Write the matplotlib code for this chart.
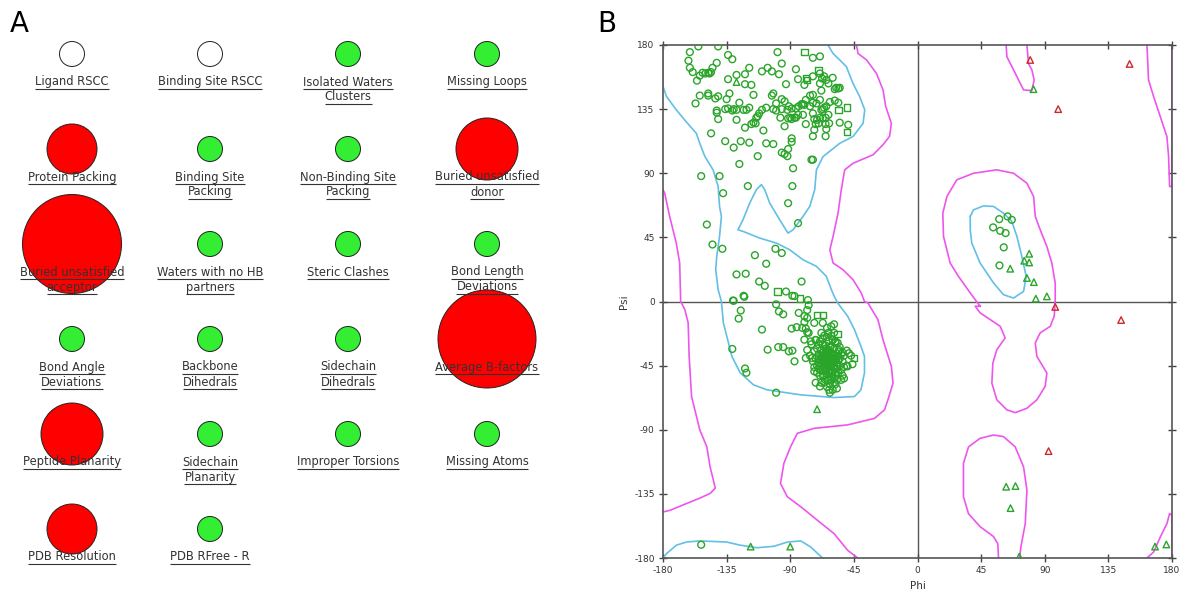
import matplotlib
matplotlib.use('Agg')
import matplotlib.pyplot as plt
from matplotlib.patches import Circle
import numpy as np

# ---------------- Panel A data ----------------
metric_labels = [
    "Ligand RSCC", "Binding Site RSCC", "Isolated Waters\nClusters", "Missing Loops",
    "Protein Packing", "Binding Site\nPacking", "Non-Binding Site\nPacking", "Buried unsatisfied\ndonor",
    "Buried unsatisfied\nacceptor", "Waters with no HB\npartners", "Steric Clashes", "Bond Length\nDeviations",
    "Bond Angle\nDeviations", "Backbone\nDihedrals", "Sidechain\nDihedrals", "Average B-factors",
    "Peptide Planarity", "Sidechain\nPlanarity", "Improper Torsions", "Missing Atoms",
    "PDB Resolution", "PDB RFree - R",
]
metric_status = [
    "none", "none", "good", "good",
    "bad", "good", "good", "bad",
    "bad", "good", "good", "good",
    "good", "good", "good", "bad",
    "bad", "good", "good", "good",
    "bad", "good",
]
metric_size = [
    25, 25, 25, 25,
    50, 25, 25, 62,
    99, 25, 25, 25,
    25, 25, 25, 98,
    62, 25, 25, 25,
    50, 25,
]
status_colors = {"none": "#ffffff", "good": "#33ee33", "bad": "#ff0000"}

# ---------------- Panel B data (phi, psi) ----------------
general_circles = [
    (-155, 179), (-141, 179), (-161, 175), (-134, 173), (-131, 170), (-99, 175), (-74, 171), (-69, 172),
    (-162, 169), (-161, 164), (-159, 161), (-156, 155), (-154, 158.5), (-152, 160.5), (-150, 160),
    (-148, 160.5), (-147, 160), (-146, 161), (-145, 164), (-142, 167.5), (-157, 139), (-154, 144.5),
    (-148, 146), (-148, 144.5), (-143, 142.5), (-141, 144), (-135, 142), (-134, 156), (-133, 146),
    (-128, 159), (-122, 159.5), (-119, 164), (-122, 152.5), (-117.5, 152), (-116, 145), (-110, 161.5),
    (-106, 164), (-103, 161.5), (-98, 159.5), (-96, 167), (-93, 152.5), (-86, 163), (-84.5, 156),
    (-80, 152), (-74, 158), (-69, 160), (-69, 153), (-67.5, 156.5), (-66, 158), (-64.5, 155.5),
    (-63, 153), (-60, 157), (-58.5, 149), (-57.5, 150), (-56, 149.5), (-55, 150), (-68, 148),
    (-74, 145), (-76, 144.5), (-79, 141.5), (-81, 138.5), (-80, 138), (-82, 138.5), (-84, 137),
    (-86, 135.5), (-89, 135.5), (-91, 137), (-94, 140.5), (-96, 142), (-100, 139), (-103, 144.5),
    (-102, 146), (-102, 135), (-100, 134), (-96, 135), (-92, 134.5), (-90, 129), (-89, 128), (-87, 129),
    (-86, 129), (-84.5, 131), (-91.5, 128.5), (-94, 123), (-97, 129), (-107, 136), (-110, 134.5),
    (-112, 132), (-113, 130), (-114, 129), (-114.5, 125), (-116, 125.5), (-121, 134.5), (-119, 136),
    (-123, 134.5), (-126, 139.5), (-128, 134.5), (-130, 135), (-131, 134), (-134, 135.5), (-136, 135),
    (-142, 134), (-142, 132.5), (-141, 128), (-128, 127.5), (-122, 122), (-117.5, 124.5), (-109, 120),
    (-107, 111), (-102, 110.5), (-146, 118), (-136, 112.5), (-130, 108), (-125, 112.5), (-119, 111.5),
    (-113, 102), (-96, 104.5), (-94, 103.5), (-92, 102), (-89, 112), (-89, 114.5), (-91.5, 107),
    (-126, 96.5), (-74, 116), (-73, 120.5), (-72, 124.5), (-71, 127.5), (-69, 129), (-67, 128.5),
    (-65, 129), (-63, 131), (-65, 124.5), (-62.5, 125), (-64.5, 121), (-65, 116), (-70, 125),
    (-68, 134.5), (-67, 135), (-66, 136), (-64.5, 137), (-62, 140), (-58.5, 141), (-56, 139.5),
    (-49, 124), (-55, 125.5), (-71.5, 139), (-69, 141.5), (-74, 139.5), (-76, 137), (-74, 132),
    (-73, 128), (-79, 124.5), (-81, 131), (-75, 99.5), (-74, 99.5), (-88, 93.5), (-88.5, 81),
    (-91.5, 69), (-84.5, 55), (-120, 81), (-153, 88), (-140, 88), (-137.5, 76), (-149, 54),
    (-145, 40), (-138, 37), (-115, 32.5), (-107, 26.5), (-100.5, 37), (-96, 34), (-128, 19),
    (-121.5, 19.5), (-112, 14), (-108, 11), (-93, 7), (-88.5, 4), (-82, 14), (-77.5, 1),
    (-130, 0.5), (-123, 4),
    # bridge / alpha region
    (-130.5, 0.7), (-122.5, 3.3), (-125, -6.3), (-126.5, -12), (-110, -19.7), (-131, -33.3),
    (-122, -47), (-121, -50), (-106, -33.8), (-98.5, -32), (-95, -32), (-91, -35), (-88.5, -34.5),
    (-87, -42), (-100, -64), (-100, -2), (-98, -7), (-95, -9), (-87, 3.8), (-77, -2.6), (-78, -6),
    (-84, -8), (-80, -10.3), (-78, -11.5), (-73, -15), (-67, -15), (-80, -14.5), (-81.5, -18.5),
    (-79, -19), (-89, -19), (-85.5, -18), (-77, -22), (-78, -21.6), (-80, -26.8), (-75.5, -28),
    (-72, -27), (-61, -17.4), (-59, -16), (-64, -18.5), (-59, -22), (-58, -28), (-60, -27),
    (-78, -34), (-79, -39.7), (-74.5, -39.7), (-73, -49), (-72, -57), (-69, -59.6), (-62.5, -62),
    (-61, -55), (-59, -54), (-52, -54), (-49.5, -45.5), (-46, -44), (-47, -38), (-50, -34.5),
    (-48.5, -36.3), (-53, -35.7), (-55.5, -34), (-56.5, -29),
    # alpha helix core
    (-66, -40), (-64, -42), (-62, -38), (-68, -44), (-63, -45), (-60, -41), (-65, -36), (-67, -39),
    (-61, -44), (-64, -47), (-69, -41), (-62, -35), (-58, -40), (-66, -46), (-63, -50), (-59, -46),
    (-70, -37), (-65, -33), (-61, -31), (-67, -30), (-57, -43), (-71, -45), (-64, -39), (-60, -37),
    (-62, -48), (-66, -52), (-58, -50), (-55, -45), (-68, -34), (-72, -40), (-63, -28), (-59, -33),
    (-56, -38), (-69, -48), (-65, -55), (-61, -53), (-57, -55), (-54, -48), (-73, -35), (-70, -30),
    (-64, -25), (-60, -27), (-66, -43), (-62, -41), (-65, -45), (-63, -37), (-67, -48), (-59, -43),
    (-61, -39), (-64, -35), (-68, -38), (-56, -41), (-60, -49), (-66, -57), (-62, -58), (-58, -58),
    (-53, -42), (-52, -38), (-74, -42), (-71, -50), (-67, -26), (-63, -22), (-58, -29), (-55, -32),
    (-75, -30), (-69, -52), (-64, -60), (-60, -62), (-53, -52), (-50, -45), (-65, -41), (-63, -43),
    (-61, -46), (-67, -36), (-59, -38), (-62, -32), (-66, -49), (-64, -51), (-57, -47), (-70, -43),
    (-72, -27), (-68, -22), (-61, -24), (-56, -35), (-54, -37), (-76, -38), (-73, -46), (-60, -52),
    (-57, -61), (-62, -64),
    (-65, -38), (-63, -40), (-61, -42), (-67, -42), (-69, -45), (-64, -44), (-62, -46), (-60, -44),
    (-66, -38), (-68, -40), (-63, -34), (-65, -31), (-61, -36), (-59, -40), (-57, -45), (-58, -52),
    (-61, -50), (-65, -48), (-67, -52), (-70, -47), (-71, -33), (-69, -28), (-66, -24), (-56, -50),
    (-55, -40), (-54, -55), (-52, -46), (-63, -55), (-68, -57), (-59, -57),
    # left-handed region and bottom
    (57.8, 57.8), (63.7, 59.7), (66.7, 57.3), (53.5, 52), (58.5, 49.6), (62.3, 48), (61, 38),
    (58, 25.3), (-153, -170.7),
]
green_squares = [
    (-80, 175), (-79, 157), (-78, 155.5), (-70, 162), (-56, 134.5), (-50, 136), (-50, 119),
    (-99, 7), (-83, 2), (-71, -9.4), (-67, -9.4), (-56.5, -22.8), (-45, -39.7),
]
green_triangles = [
    (-128, 154), (-71, -75.6), (-118, -172), (-90, -172), (82, 149), (79, 33.5), (75.5, 28.6),
    (79, 27.4), (65.6, 23), (77.4, 16.5), (82.3, 13.6), (83.7, 2), (91.5, 3.6), (62.7, -130),
    (69.3, -129.5), (65.8, -145), (72, -179), (168, -172), (176, -170.5),
]
red_triangles = [
    (79.7, 169.5), (150, 166.7), (99.5, 135), (97.4, -3.8), (144, -13), (92.7, -105),
]

# favoured (cyan) contours
favored_main = [
    (-180, 180), (-180, 151), (-177.6, 144), (-170.6, 134.5), (-163.5, 126), (-156.4, 118),
    (-154, 111), (-150.5, 102), (-144.6, 92.4), (-141, 80.7), (-140, 66.7), (-138.7, 59.7),
    (-140, 45.7), (-142, 31.7), (-142.7, 22.3), (-141, 8.3), (-138.7, 0), (-137.3, -15),
    (-133.7, -29), (-131.3, -38.5), (-125.4, -50), (-116, -58.5), (-106.4, -62), (-82.6, -65.5),
    (-59, -67.4), (-44.6, -66.7), (-40, -62), (-37.5, -50), (-37.5, -38.5), (-40, -31.5),
    (-44.6, -19.7), (-49.4, -10.3), (-56.5, -1), (-59, 3.8), (-61, 8.5), (-64.5, 17.7),
    (-71.5, 24.7), (-81, 29.3), (-90.4, 36.3), (-99.8, 41), (-111.6, 44.5), (-123.4, 49.2),
    (-127, 50.3), (-123.4, 57.4), (-118.7, 69), (-114, 78.4), (-110.4, 82), (-108, 78.4),
    (-104.5, 69), (-97.5, 57.4), (-91.6, 48), (-88, 50.3), (-81, 59.7), (-76.2, 66.7),
    (-72.7, 78.4), (-71.5, 92.4), (-66.8, 101.7), (-55, 111), (-45.6, 115.8), (-38.5, 125),
    (-37.3, 134.5), (-40.9, 143.8), (-45.6, 153), (-50.3, 164.8), (-55, 169.5), (-59.7, 174),
    (-63.3, 180),
]
favored_band = [
    (-180, -180), (-177.6, -177), (-170.5, -171), (-163.4, -168.8), (-154, -168), (-135, -168.8),
    (-125.4, -171), (-113.5, -172.8), (-101.6, -171.8), (-92, -168.8), (-82.6, -168),
    (-75.5, -172.3), (-67.2, -180),
]
favored_alphaL = [
    (37.3, 59.7), (39.6, 64.3), (46.7, 67.1), (53.8, 66.7), (60.8, 62), (66.7, 56.2), (70.3, 45.7),
    (73.8, 31.6), (76.9, 17.6), (75, 7.1), (67.9, 2.4), (60.8, 4.8), (53.8, 13), (44.3, 27),
    (38.4, 41), (37.3, 50.3), (37.3, 59.7),
]
# allowed (magenta) contours
allowed_left = [
    (-180, 78.4), (-178.8, 76), (-175.3, 59.7), (-170.6, 41), (-168.2, 27), (-167.5, 0),
    (-164.6, -5.6), (-162.2, -15), (-161.5, -38.5), (-159.8, -66.7), (-154, -90), (-149, -102),
    (-146.7, -116), (-143, -131), (-146.7, -134.7), (-154, -138), (-163.4, -141.8),
    (-175, -146.5), (-180, -147.7),
]
allowed_main = [
    (-43.2, 180), (-42, 174), (-36, 169.5), (-29, 160), (-24.4, 148.5), (-22.5, 137), (-18.5, 125),
    (-19.7, 116), (-24.4, 110), (-31.4, 103), (-45.6, 97), (-51.5, 92.4), (-53.9, 78.4),
    (-56.2, 62), (-59.7, 45.7), (-62, 36.3), (-59.7, 27), (-52.7, 22.3), (-45.6, 15.3),
    (-39.8, 6), (-37.5, 0), (-35.1, -1), (-28, -12.7), (-24.4, -26.8), (-18.5, -45.5),
    (-17.3, -57.3), (-20.9, -69), (-23.3, -76), (-30.4, -82), (-39.9, -84.3), (-49.4, -86.6),
    (-73.1, -89), (-85, -92.5), (-89.75, -101.9), (-94.5, -113.6), (-96.9, -127.7), (-92.1, -137),
    (-82.6, -144), (-70.8, -153.5), (-58.9, -163), (-49.4, -174.6), (-42.3, -180),
]
allowed_top_loop = [
    (62.7, 180), (63.2, 171.8), (66.8, 164.8), (70.3, 157.8), (75, 148.5), (80.9, 148),
    (82.5, 155.5), (80.9, 162.5), (78.5, 167), (77.4, 180),
]
allowed_bottom = [
    (57.3, -180), (56.8, -170), (53.8, -165), (44.3, -158), (36.1, -149), (32.5, -137),
    (32.5, -113.6), (36.1, -102), (44.3, -96), (53.8, -93.7), (60.8, -94.8), (69.1, -102),
    (75, -116), (77.4, -132.4), (76.2, -156), (73.1, -172.3), (72.2, -180),
]
allowed_alphaL = [
    (44.3, -3.4), (37.3, 6), (29, 17.6), (23.1, 27), (18.4, 45.7), (17.9, 62), (20.8, 73.7),
    (27.8, 85.4), (39.6, 90), (56.1, 92.4), (67.9, 90), (77.4, 83), (82.1, 73.7), (83.3, 59.7),
    (86.8, 50.3), (91.5, 38.6), (95, 27), (97.4, 13), (97.4, 0), (96.7, -10.3), (93.9, -17.4),
    (86.8, -22), (83.3, -29), (84.4, -38.5), (91.5, -50.2), (90.3, -59.6), (84.4, -69),
    (77.4, -74.9), (69.1, -78), (63.2, -76), (56.1, -69), (52.6, -57.3), (53.3, -43.2),
    (56.1, -33.8), (62, -25.6), (58.5, -17.4), (51.4, -12.7), (44.3, -8), (40.8, -3.3),
    (44.3, -3.4),
]
allowed_right_top = [
    (162.3, 180), (163.4, 155.5), (167, 143.8), (171.7, 129.8), (176.4, 115.7), (177.6, 101.7),
    (178.3, 80.7), (180, 80.7), (180, 180),
]
allowed_right_bottom = [
    (162.3, -180), (167, -175.8), (171.7, -165.3), (176.4, -155.9), (178.3, -148.8),
    (180, -150), (180, -180),
]
axis_ticks = [-180, -135, -90, -45, 0, 45, 90, 135, 180]

# ---------------- Figure ----------------
W, H = 1182, 592
fig = plt.figure(figsize=(W / 100, H / 100), dpi=100)

# Panel A in pixel-like coordinates
axA = fig.add_axes([0, 0, 600 / W, 1])
axA.set_xlim(0, 600)
axA.set_ylim(H, 0)
axA.axis('off')

col_x = [72, 210, 348, 487]
row_y0, row_dy = 54, 95
line_dy = 15
label_texts = []
for i, (lab, st, d) in enumerate(zip(metric_labels, metric_status, metric_size)):
    r, c = divmod(i, 4)
    cx, cy = col_x[c], row_y0 + r * row_dy
    axA.add_patch(Circle((cx, cy), d / 2, facecolor=status_colors[st],
                         edgecolor='#222222', lw=0.7, zorder=1))
    for j, line in enumerate(lab.split("\n")):
        ty = cy + 28 + j * line_dy
        t = axA.text(cx, ty, line, ha='center', va='center', fontsize=8.3,
                     color='#333333', zorder=3)
        label_texts.append((t, ty))

fig.text(10 / W, 1 - 24 / H, "A", fontsize=20, ha='left', va='center', color='black')
fig.text(597 / W, 1 - 24 / H, "B", fontsize=20, ha='left', va='center', color='black')

# Panel B
axB = fig.add_axes([663 / W, 34 / H, 509 / W, 513 / H])
axB.set_xlim(-180, 180)
axB.set_ylim(-180, 180)
cyan = '#62bfe6'
magenta = '#ee55ee'
for path in (favored_main, favored_band, favored_alphaL):
    p = np.array(path)
    axB.plot(p[:, 0], p[:, 1], color=cyan, lw=1.2, zorder=2)
for path in (allowed_left, allowed_main, allowed_top_loop, allowed_bottom, allowed_alphaL,
             allowed_right_top, allowed_right_bottom):
    p = np.array(path)
    axB.plot(p[:, 0], p[:, 1], color=magenta, lw=1.2, zorder=2)

axB.axhline(0, color='#555555', lw=1.0, zorder=1)
axB.axvline(0, color='#555555', lw=1.0, zorder=1)

green = '#2aa52a'
gc = np.array(general_circles)
axB.scatter(gc[:, 0], gc[:, 1], s=24, facecolors='none', edgecolors=green, linewidths=1.0, zorder=3)
gs = np.array(green_squares)
axB.scatter(gs[:, 0], gs[:, 1], s=22, marker='s', facecolors='none', edgecolors=green,
            linewidths=1.0, zorder=3)
gt = np.array(green_triangles)
axB.scatter(gt[:, 0], gt[:, 1], s=22, marker='^', facecolors='none', edgecolors=green,
            linewidths=1.0, zorder=3)
rt = np.array(red_triangles)
axB.scatter(rt[:, 0], rt[:, 1], s=22, marker='^', facecolors='none', edgecolors='#cc2a2a',
            linewidths=1.0, zorder=3)

axB.set_xticks(axis_ticks)
axB.set_yticks(axis_ticks)
axB.set_xticklabels([str(v) for v in axis_ticks])
axB.set_yticklabels([str(v) for v in axis_ticks])
axB.tick_params(axis='both', which='both', direction='inout', length=6, width=1,
                color='#444444', labelsize=6.5, labelcolor='#333333',
                top=True, right=True, labeltop=False, labelright=False, pad=3)
for sp in axB.spines.values():
    sp.set_color('#555555')
    sp.set_linewidth(1.2)
axB.set_xlabel("Phi", fontsize=7.5, color='#333333', labelpad=4)
axB.set_ylabel("Psi", fontsize=7.5, color='#333333', labelpad=4)

# underline panel A labels
fig.canvas.draw()
renderer = fig.canvas.get_renderer()
inv = axA.transData.inverted()
for t, ty in label_texts:
    bb = t.get_window_extent(renderer)
    x0 = inv.transform((bb.x0, bb.y0))[0]
    x1 = inv.transform((bb.x1, bb.y0))[0]
    axA.plot([x0, x1], [ty + 6.5, ty + 6.5], color='#333333', lw=0.8, zorder=3,
             solid_capstyle='butt')

fig.savefig("out.png", dpi=100)
